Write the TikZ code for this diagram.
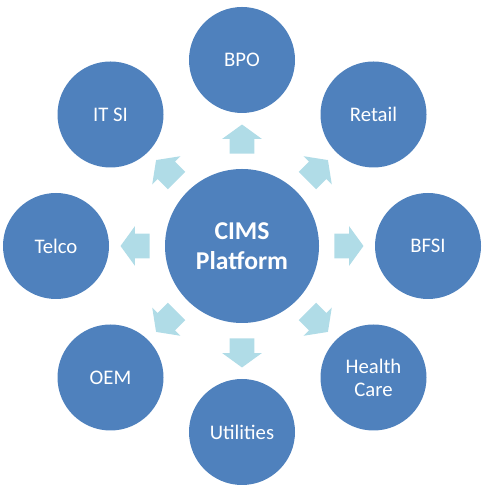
\documentclass[tikz,border=0pt]{standalone}
\usepackage{fontspec}
\setmainfont{Carlito}
\usetikzlibrary{shapes.arrows}
\definecolor{hubblue}{HTML}{4F81BD}
\definecolor{arrowblue}{HTML}{B0DCE7}
\begin{document}
\begin{tikzpicture}[
    hub/.style={circle, fill=hubblue, text=white, minimum size=3.08cm, inner sep=0pt,
      align=center, font=\fontsize{14.6}{17}\selectfont\bfseries},
    spoke/.style={circle, fill=hubblue, text=white, minimum size=2.12cm, inner sep=0pt,
      align=center, font=\fontsize{11.8}{13}\selectfont},
    pointer/.style={single arrow, fill=arrowblue, draw=none, inner xsep=0pt, inner ysep=0.24cm,
      minimum height=0.58cm, single arrow head extend=0.15cm, single arrow tip angle=108}
  ]
  \useasboundingbox (0,0) rectangle (10,10);
  \node[hub] (cims) at (4.84,5.08) {CIMS\\Platform};
  \node[spoke] (bpo) at (4.84,8.80) {BPO};
  \node[spoke] (retail) at (7.47,7.71) {Retail};
  \node[spoke] (bfsi) at (8.56,5.08) {BFSI};
  \node[spoke] (health) at (7.47,2.45) {Health\\Care};
  \node[spoke] (util) at (4.84,1.36) {Utilities};
  \node[spoke] (oem) at (2.21,2.45) {OEM};
  \node[spoke] (telco) at (1.12,5.08) {Telco};
  \node[spoke] (itsi) at (2.21,7.71) {IT SI};
  % arrows pointing out of the hub
  \node[pointer, rotate=90] (to-bpo) at (4.84,7.13) {};
  \node[pointer, rotate=45] (to-retail) at (6.29,6.53) {};
  \node[pointer] (to-bfsi) at (6.89,5.08) {};
  \node[pointer, rotate=-45] (to-health) at (6.29,3.63) {};
  \node[pointer, rotate=-90] (to-util) at (4.84,3.03) {};
  \node[pointer, rotate=-135] (to-oem) at (3.39,3.63) {};
  \node[pointer, rotate=180] (to-telco) at (2.79,5.08) {};
  \node[pointer, rotate=135] (to-itsi) at (3.39,6.53) {};
\end{tikzpicture}
\end{document}
